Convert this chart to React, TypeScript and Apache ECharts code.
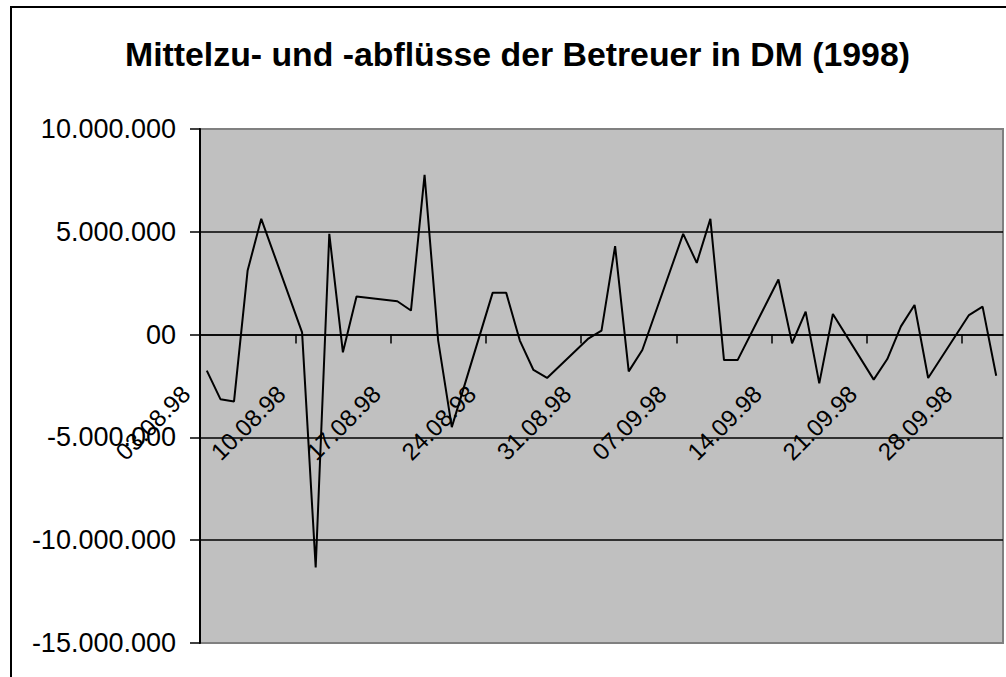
import React, { useEffect, useRef } from "react";
import * as echarts from "echarts";

const chartTitle = "Mittelzu- und -abflüsse der Betreuer in DM (1998)";

const dates = [
  "03.08.98", "04.08.98", "05.08.98", "06.08.98", "07.08.98",
  "10.08.98", "11.08.98", "12.08.98", "13.08.98", "14.08.98",
  "17.08.98", "18.08.98", "19.08.98", "20.08.98", "21.08.98",
  "24.08.98", "25.08.98", "26.08.98", "27.08.98", "28.08.98",
  "31.08.98", "01.09.98", "02.09.98", "03.09.98", "04.09.98",
  "07.09.98", "08.09.98", "09.09.98", "10.09.98", "11.09.98",
  "14.09.98", "15.09.98", "16.09.98", "17.09.98", "18.09.98",
  "21.09.98", "22.09.98", "23.09.98", "24.09.98", "25.09.98",
  "28.09.98", "29.09.98", "30.09.98",
];

const values = [
  -1750000, -3140000, -3250000, 3120000, 5630000,
  110000, -11330000, 4900000, -860000, 1850000,
  1620000, 1170000, 7770000, -290000, -4500000,
  2030000, 2030000, -290000, -1720000, -2110000,
  -210000, 190000, 4300000, -1790000, -750000,
  4900000, 3490000, 5630000, -1240000, -1240000,
  2680000, -420000, 1120000, -2370000, 1000000,
  -2190000, -1190000, 400000, 1440000, -2110000,
  950000, 1360000, -2000000,
];

const tickLabels = [
  "03.08.98", "10.08.98", "17.08.98", "24.08.98", "31.08.98",
  "07.09.98", "14.09.98", "21.09.98", "28.09.98",
];

const axisStartDate = "03.08.98";
const axisEndDate = "01.10.98"; // exclusive end of last day slot

const yMin = -15000000;
const yMax = 10000000;
const yStep = 5000000;

function dayNum(s: string): number {
  const [d, m, y] = s.split(".").map(Number);
  return Date.UTC(1900 + y, m - 1, d) / 86400000;
}

const startDay = dayNum(axisStartDate);
const dayIndex = (s: string) => dayNum(s) - startDay;

function formatDE(v: number): string {
  if (v === 0) return "00";
  const sign = v < 0 ? "-" : "";
  return sign + Math.abs(v).toString().replace(/\B(?=(\d{3})+(?!\d))/g, ".");
}

const labelByIndex: Record<number, string> = {};
tickLabels.forEach((t) => {
  labelByIndex[dayIndex(t)] = t;
});

export default function App() {
  const ref = useRef<HTMLDivElement>(null);

  useEffect(() => {
    if (!ref.current) return;
    const chart = echarts.init(ref.current, undefined, { renderer: "svg" });
    const font = "'Liberation Sans', Arial, sans-serif";
    const tickValues = tickLabels.map(dayIndex);
    const gridHeight = 514;
    // place the date axis where the value axis crosses zero
    const zeroOffset = -((0 - yMin) / (yMax - yMin)) * gridHeight;

    chart.setOption({
      animation: false,
      backgroundColor: "#ffffff",
      title: {
        text: chartTitle,
        left: 120,
        top: 32,
        textStyle: {
          fontFamily: font,
          fontWeight: "bold",
          fontSize: 33.8,
          color: "#000",
        },
      },
      graphic: [
        {
          type: "rect",
          shape: { x: 11, y: 7, width: 1100, height: 800 },
          style: { fill: "none", stroke: "#000", lineWidth: 2 },
          silent: true,
        },
      ],
      grid: {
        left: 200,
        top: 129,
        width: 803,
        height: gridHeight,
        show: true,
        backgroundColor: "#c0c0c0",
        borderColor: "#808080",
        borderWidth: 2,
        outerBoundsMode: "none",
        containLabel: false,
      },
      xAxis: {
        type: "value",
        min: 0,
        max: dayIndex(axisEndDate),
        interval: 7,
        offset: zeroOffset,
        axisLine: { onZero: false, lineStyle: { color: "#000", width: 1.5 } },
        axisTick: {
          show: true,
          length: 9,
          customValues: tickValues,
          lineStyle: { color: "#000", width: 1.5 },
        },
        axisLabel: {
          customValues: tickValues,
          rotate: 45,
          margin: 41,
          padding: [0, 20, 0, 0],
          fontFamily: font,
          fontSize: 24,
          color: "#000",
          formatter: (v: number) => labelByIndex[Math.round(v)] ?? "",
        },
        splitLine: { show: false },
      },
      yAxis: {
        type: "value",
        min: yMin,
        max: yMax,
        interval: yStep,
        axisLine: { show: true, lineStyle: { color: "#000", width: 2 } },
        axisTick: { show: true, length: 10, lineStyle: { color: "#000", width: 1.5 } },
        axisLabel: {
          margin: 24,
          fontFamily: font,
          fontSize: 27,
          color: "#000",
          formatter: (v: number) => formatDE(v),
        },
        splitLine: {
          show: true,
          showMinLine: false,
          showMaxLine: false,
          lineStyle: { color: "#000", width: 1.5 },
        },
      },
      series: [
        {
          type: "line",
          data: dates.map((d, i) => [dayIndex(d) + 0.5, values[i]]),
          showSymbol: false,
          symbol: "none",
          lineStyle: { color: "#000", width: 2 },
          itemStyle: { color: "#000" },
          z: 5,
        },
      ],
    });

    return () => chart.dispose();
  }, []);

  return (
    <div
      ref={ref}
      style={{ position: "absolute", left: 0, top: 0, width: 1006, height: 677 }}
    />
  );
}
